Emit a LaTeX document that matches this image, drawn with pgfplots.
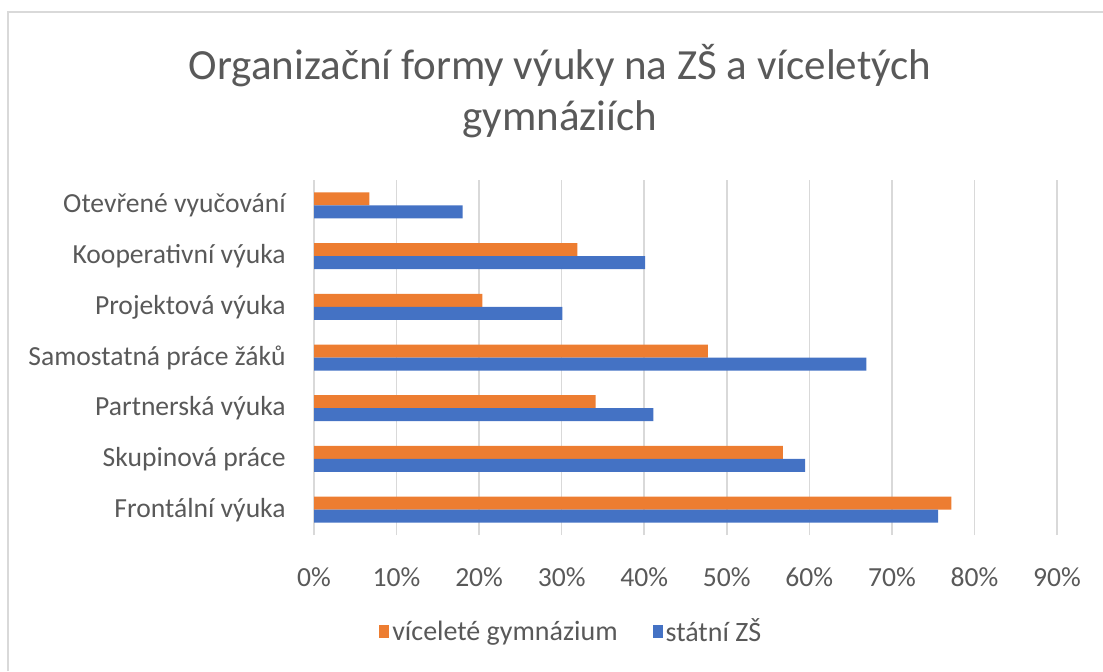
\documentclass[border=0pt]{standalone}
\usepackage{pgfplots}
\pgfplotsset{compat=1.18}
\usepackage{fontspec}
\setmainfont{Carlito}
\definecolor{txt}{HTML}{595959}
\definecolor{gridc}{HTML}{D9D9D9}
\definecolor{orangeb}{HTML}{ED7D31}
\definecolor{blueb}{HTML}{4472C4}
\begin{document}
\begin{tikzpicture}
\useasboundingbox (0,0) rectangle (551.5pt,335.5pt);
\draw[gridc, line width=1pt] (4pt,0pt) -- (4pt,329.5pt) -- (551.5pt,329.5pt);
\node[txt, align=center, font={\fontsize{21.5}{25.5}\selectfont}] at (280pt,290pt)
  {Organizační formy výuky na ZŠ a víceletých\\gymnáziích};
\begin{axis}[
  at={(157pt,68pt)}, anchor=south west,
  scale only axis, width=371.5pt, height=177.5pt,
  xbar, bar width=6.5pt,
  xmin=0, xmax=90, ymin=-0.5, ymax=6.5,
  xtick={0,10,...,90},
  xticklabel={\pgfmathprintnumber{\tick}\%},
  ytick={0,...,6},
  yticklabels={Frontální výuka,Skupinová práce,Partnerská výuka,Samostatná práce žáků,Projektová výuka,Kooperativní výuka,Otevřené vyučování},
  major tick length=0pt,
  axis line style={draw=none},
  xmajorgrids, grid style={gridc, line width=0.75pt},
  /pgf/number format/assume math mode=true,
  tick label style={txt, font={\fontsize{13.8}{16}\selectfont}},
  yticklabel style={inner sep=0pt, anchor=east, xshift=-14pt},
  xticklabel style={inner sep=0pt, anchor=center, yshift=-21pt},
  legend style={at={(axis description cs:0.347,-0.273)}, anchor=center, draw=none,
    font={\fontsize{14}{16}\selectfont}, text=txt, legend columns=2,
    nodes={inner xsep=1.5pt},
    /tikz/every even column/.append style={column sep=16pt}},
  legend cell align=left,
]
\addplot[fill=orangeb, draw=none, bar shift=3.25pt,
  legend image code/.code={\fill[orangeb] (0pt,-3.25pt) rectangle (5pt,3.25pt);}]
  coordinates {(77.2,0) (56.8,1) (34.1,2) (47.7,3) (20.4,4) (31.9,5) (6.7,6)};
\addplot[fill=blueb, draw=none, bar shift=-3.25pt,
  legend image code/.code={\fill[blueb] (0pt,-3.25pt) rectangle (5pt,3.25pt);}]
  coordinates {(75.6,0) (59.5,1) (41.1,2) (66.9,3) (30.1,4) (40.1,5) (18.0,6)};
\legend{víceleté gymnázium, státní ZŠ}
\end{axis}
\end{tikzpicture}
\end{document}
